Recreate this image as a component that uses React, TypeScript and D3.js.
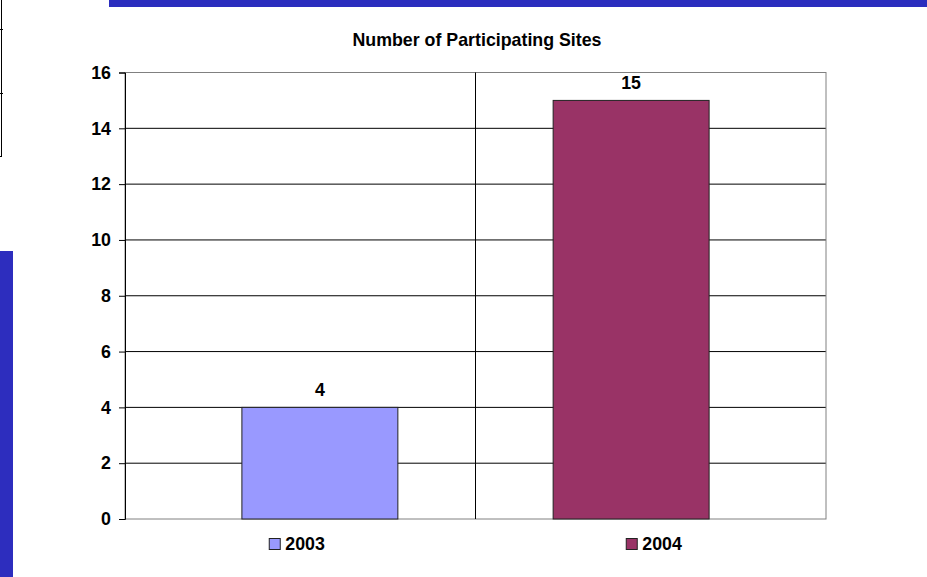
import React, { useEffect, useRef } from 'react';
import * as d3 from 'd3';

const years = ['2003', '2004'];
const sites = [4, 15];
const colors = ['#9999FF', '#993366'];
const yTicks = [0, 2, 4, 6, 8, 10, 12, 14, 16];
const title = 'Number of Participating Sites';

const W = 927;
const H = 577;
const FONT = '"Liberation Sans", Arial, sans-serif';
const FS = 17.8;

const App: React.FC = () => {
  const svgRef = useRef<SVGSVGElement>(null);

  useEffect(() => {
    if (!svgRef.current) return;
    const svg = d3.select(svgRef.current);
    svg.selectAll('*').remove();

    const margin = { top: 72.5, right: 101, bottom: 58, left: 125 };

    // slide decorations
    svg.append('rect').attr('x', 109).attr('y', 0).attr('width', W - 109).attr('height', 7).attr('fill', '#2B2DBE');
    svg.append('rect').attr('x', 0).attr('y', 251).attr('width', 13).attr('height', H - 251).attr('fill', '#2D2DBE');
    svg.append('path')
      .attr('d', 'M1.5,0 V157 M0,29.5 H3 M0,93.5 H3 M0,156.5 H2')
      .attr('stroke', '#000').attr('fill', 'none');

    const x = d3.scaleBand<string>()
      .domain(years)
      .range([margin.left, W - margin.right]);

    const y = d3.scaleLinear()
      .domain([0, 16])
      .range([H - margin.bottom, margin.top]);

    const bw = x.bandwidth();
    const barW = bw * 0.445;
    const center = (i: number) => (x(years[i]) as number) + bw / 2 + (i === 0 ? 1 : -1) * bw * 0.056;

    // horizontal gridlines
    svg.append('g')
      .selectAll('line')
      .data(yTicks.filter(t => t > 0))
      .enter()
      .append('line')
      .attr('x1', margin.left).attr('x2', W - margin.right)
      .attr('y1', d => y(d)).attr('y2', d => y(d))
      .attr('stroke', '#000').attr('stroke-width', 1);

    // plot border
    svg.append('rect')
      .attr('x', margin.left).attr('y', margin.top)
      .attr('width', W - margin.right - margin.left)
      .attr('height', H - margin.bottom - margin.top)
      .attr('fill', 'none').attr('stroke', '#808080');

    // category separator
    svg.append('line')
      .attr('x1', x(years[1]) as number).attr('x2', x(years[1]) as number)
      .attr('y1', margin.top).attr('y2', y(0))
      .attr('stroke', '#000');

    // bars
    svg.append('g')
      .selectAll('rect')
      .data(sites)
      .enter()
      .append('rect')
      .attr('x', (_d, i) => center(i) - barW / 2)
      .attr('y', d => y(d))
      .attr('width', barW)
      .attr('height', d => y(0) - y(d))
      .attr('fill', (_d, i) => colors[i])
      .attr('stroke', '#222')
      .attr('stroke-width', 1);

    // value labels
    svg.append('g')
      .selectAll('text')
      .data(sites)
      .enter()
      .append('text')
      .attr('x', (_d, i) => center(i))
      .attr('y', d => y(d) - 11.5)
      .attr('text-anchor', 'middle')
      .attr('font-family', FONT).attr('font-size', FS).attr('font-weight', 'bold')
      .text(d => d);

    // y axis
    const yAxis = svg.append('g')
      .attr('transform', `translate(${margin.left},0)`)
      .call(d3.axisLeft(y).tickValues(yTicks).tickSize(6).tickPadding(8));
    yAxis.select('.domain').attr('stroke', '#000');
    yAxis.selectAll('line').attr('stroke', '#000');
    yAxis.selectAll('text')
      .attr('font-family', FONT).attr('font-size', FS).attr('font-weight', 'bold').attr('fill', '#000');

    // title
    svg.append('text')
      .attr('x', 477).attr('y', 45.5)
      .attr('text-anchor', 'middle')
      .attr('font-family', FONT).attr('font-size', FS).attr('font-weight', 'bold')
      .text(title);

    // legend
    const legend = svg.append('g')
      .selectAll('g')
      .data(years)
      .enter()
      .append('g')
      .attr('transform', (d, i) => `translate(${(x(d) as number) + bw / 2 - (i === 0 ? 31 : 24.5)},538.5)`);
    legend.append('rect')
      .attr('width', 11).attr('height', 11)
      .attr('fill', (_d, i) => colors[i]).attr('stroke', '#222');
    legend.append('text')
      .attr('x', 16).attr('y', 11.8)
      .attr('font-family', FONT).attr('font-size', FS).attr('font-weight', 'bold')
      .text(d => d);
  }, []);

  return (
    <div style={{ position: 'fixed', left: 0, top: 0, width: W, height: H, background: '#fff' }}>
      <svg ref={svgRef} width={W} height={H} style={{ display: 'block' }} />
    </div>
  );
};

export default App;
